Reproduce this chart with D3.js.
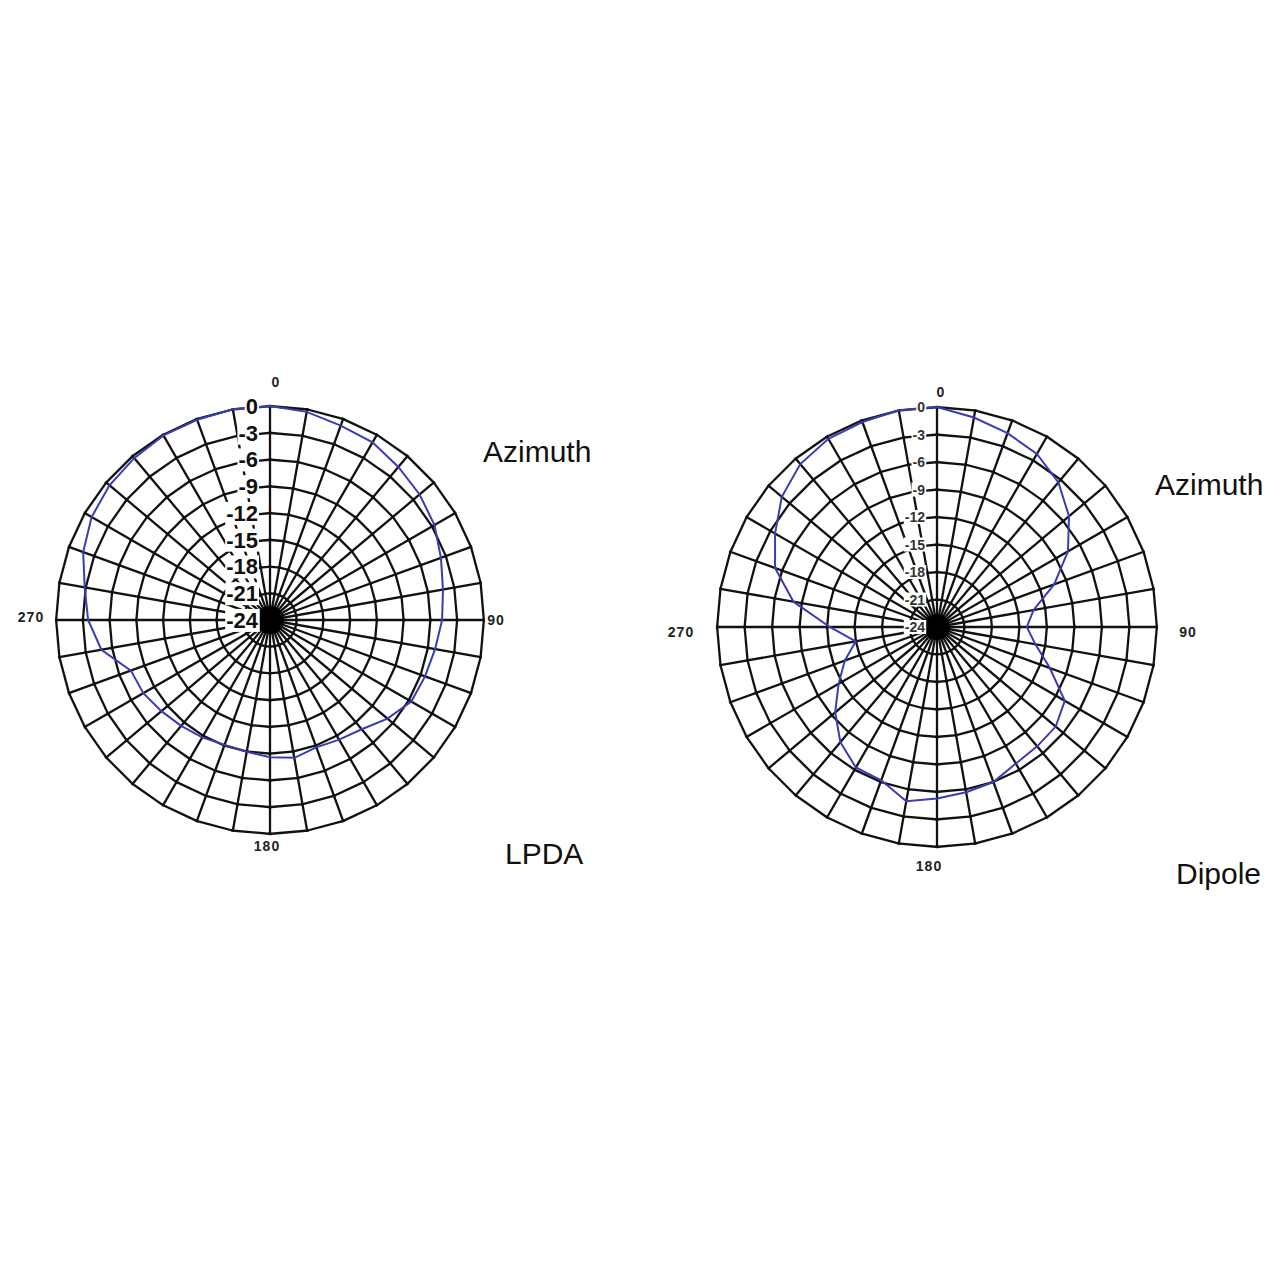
<!DOCTYPE html>
<html>
<head>
<meta charset="utf-8">
<script src="https://cdn.jsdelivr.net/npm/d3@7"></script>
<style>
  body { margin: 0; background: #fff; }
  svg { display: block; }
</style>
</head>
<body>
<svg id="chart" width="1280" height="1280"></svg>
<script>
// azimuth of each measured point (degrees)
const azimuths = [0, 10, 20, 30, 40, 50, 60, 70, 80, 90, 100, 110,
                  120, 130, 140, 150, 160, 170, 180, 190, 200, 210, 220, 230,
                  240, 250, 260, 270, 280, 290, 300, 310, 320, 330, 340, 350];

// relative gain in dB
const lpdaGain = [0, -0.3, -0.8, -1.0, -1.6, -2.1, -2.7, -3.6, -4.3, -4.7, -5.2, -5.5,
                  -5.7, -6.8, -8.0, -8.5, -8.8, -8.3, -8.6, -9.0, -9.1, -8.8, -8.5, -8.1,
                  -7.6, -7.4, -4.8, -3.6, -2.9, -1.7, -0.9, -0.5, -0.3, -0.1, -0.1, 0];

const dipoleGain = [0, -0.8, -1.5, -2.2, -3.4, -5.2, -7.5, -10.4, -13.3, -14.2, -13.1, -10.9,
                    -7.9, -7.1, -7.0, -6.8, -6.0, -5.7, -5.3, -4.7, -6.2, -6.3, -7.6, -9.5,
                    -11.6, -13.3, -15.0, -12.3, -8.1, -5.2, -3.6, -1.9, -0.8, -0.3, -0.2, 0];

// dB rings and their labels
const dbTicks = [0, -3, -6, -9, -12, -15, -18, -21, -24];
const ringLevels = [0, -3, -6, -9, -12, -15, -18, -21];
const spokeAngles = azimuths;

// compass labels
const compassAngles = [0, 90, 180, 270];
const compassText = ["0", "90", "180", "270"];

const svg = d3.select("#chart");
svg.append("rect").attr("width", 1280).attr("height", 1280).attr("fill", "#fff");

function drawPolar(cfg, gains){
    const g = svg.append("g").attr("transform", `translate(${cfg.cx},${cfg.cy})`);
    const rScale = d3.scaleLinear().domain([-24, 0]).range([0, cfg.R]);
    const aScale = d3.scaleLinear().domain([0, 360]).range([0, 2 * Math.PI]);
    const px = (az, r) => r * Math.sin(aScale(az));
    const py = (az, r) => -r * Math.cos(aScale(az));

    //rings drawn sector by sector, slightly overshooting each spoke
    const segs = [];
    ringLevels.forEach(lv => {
        const over = 1.5 / Math.max(rScale(lv), 1) * 180 / Math.PI;
        spokeAngles.forEach(az => {
            segs.push({lv: lv, a0: az - over, a1: az + 10 + over});
        });
    });
    g.append("g").selectAll("line").data(segs).join("line")
        .attr("x1", d => px(d.a0, rScale(d.lv)))
        .attr("y1", d => py(d.a0, rScale(d.lv)))
        .attr("x2", d => px(d.a1, rScale(d.lv)))
        .attr("y2", d => py(d.a1, rScale(d.lv)))
        .attr("stroke", "#111")
        .attr("stroke-width", 2.3);

    //spokes
    g.append("g").selectAll("line").data(spokeAngles).join("line")
        .attr("x1", 0).attr("y1", 0)
        .attr("x2", d => px(d, rScale(0)))
        .attr("y2", d => py(d, rScale(0)))
        .attr("stroke", "#111")
        .attr("stroke-width", 2.3);

    g.append("circle").attr("r", cfg.hub).attr("fill", "#000");

    //pattern
    const line = d3.lineRadial()
        .angle(d => aScale(d.az))
        .radius(d => rScale(d.db))
        .curve(d3.curveLinearClosed);
    const pts = azimuths.map((az, i) => ({az: az, db: gains[i]}));
    g.append("path").datum(pts)
        .attr("d", line)
        .attr("fill", "none")
        .attr("stroke", "#3a3db0")
        .attr("stroke-width", 2);

    //dB labels with white backing
    const lab = g.append("g");
    dbTicks.forEach(v => {
        const t = lab.append("text")
            .attr("x", cfg.labelX)
            .attr("y", -rScale(v))
            .attr("dy", "0.36em")
            .attr("text-anchor", "end")
            .attr("font-family", "Liberation Sans, Arial, sans-serif")
            .attr("font-weight", "bold")
            .attr("font-size", cfg.labelSize)
            .attr("fill", cfg.labelColor)
            .text(v);
        const bb = t.node().getBBox();
        lab.insert("rect", "text")
            .attr("x", bb.x - 1).attr("y", bb.y + 1)
            .attr("width", bb.width + 2).attr("height", bb.height - 2)
            .attr("fill", "#fff");
    });

    //compass labels
    g.append("g").selectAll("text").data(compassAngles).join("text")
        .attr("x", (d, i) => cfg.compass[i][0])
        .attr("y", (d, i) => cfg.compass[i][1])
        .attr("dy", "0.36em")
        .attr("text-anchor", "middle")
        .attr("font-family", "Liberation Sans, Arial, sans-serif")
        .attr("font-weight", "bold")
        .attr("font-size", 14)
        .attr("letter-spacing", 1)
        .attr("fill", "#222")
        .text((d, i) => compassText[i]);

    //titles
    svg.append("text")
        .attr("x", cfg.title[0]).attr("y", cfg.title[1])
        .attr("font-family", "Liberation Sans, Arial, sans-serif")
        .attr("font-size", 30)
        .attr("fill", "#111")
        .text("Azimuth");
    svg.append("text")
        .attr("x", cfg.name[0]).attr("y", cfg.name[1])
        .attr("font-family", "Liberation Sans, Arial, sans-serif")
        .attr("font-size", 30)
        .attr("fill", "#111")
        .text(cfg.nameText);
}

drawPolar({
    cx: 270, cy: 620, R: 214, hub: 14,
    labelX: -12, labelSize: 22, labelColor: "#111",
    compass: [[6, -238], [226, 0], [-3, 226], [-239, -3]],
    title: [483, 462], name: [505, 864], nameText: "LPDA"
}, lpdaGain);

drawPolar({
    cx: 937, cy: 627, R: 220, hub: 13,
    labelX: -12, labelSize: 14, labelColor: "#333",
    compass: [[4, -235], [251, 5], [-8, 239], [-256, 5]],
    title: [1155, 495], name: [1176, 884], nameText: "Dipole"
}, dipoleGain);
</script>
</body>
</html>
